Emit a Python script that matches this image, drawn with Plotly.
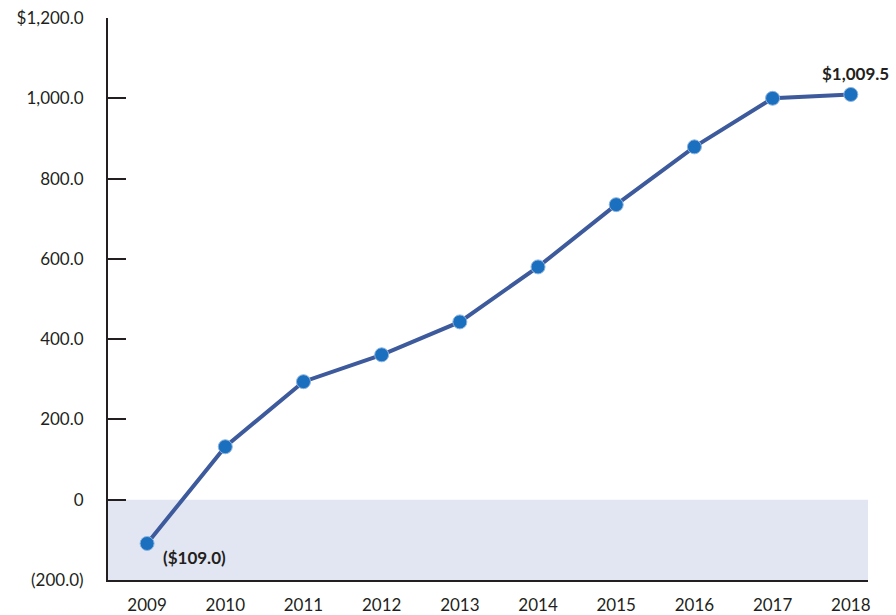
import plotly.graph_objects as go

years = [2009, 2010, 2011, 2012, 2013, 2014, 2015, 2016, 2017, 2018]
values = [-109.0, 132.0, 294.0, 361.0, 443.0, 580.0, 735.0, 879.0, 1000.0, 1009.5]
ytick_vals = [-200, 0, 200, 400, 600, 800, 1000, 1200]
ytick_text = ["(200.0)", "0", "200.0", "400.0", "600.0", "800.0", "1,000.0", "$1,200.0"]

fig = go.Figure()
fig.add_shape(type="rect", xref="paper", yref="y", x0=0, x1=1, y0=-200, y1=0,
              fillcolor="#E2E6F2", line_width=0, layer="below")
fig.add_trace(go.Scatter(
    x=years, y=values, mode="lines+markers",
    line=dict(color="#3D5A9C", width=4),
    marker=dict(color="#1A6FBE", size=14, line=dict(color="#8DB4E0", width=1)),
    hoverinfo="skip", showlegend=False, cliponaxis=False))

fig.add_annotation(x=years[-1], y=values[-1], text="<b>$1,009.5</b>", showarrow=False,
                   xanchor="center", yanchor="bottom", yshift=8, xshift=5,
                   font=dict(size=17, color="#231F20", family="Lato"))
fig.add_annotation(x=years[0], y=values[0], text="<b>($109.0)</b>", showarrow=False,
                   xanchor="left", yanchor="top", xshift=14, yshift=-2,
                   font=dict(size=17, color="#231F20", family="Lato"))

fig.update_layout(
    width=896, height=615,
    margin=dict(l=108, r=28, t=18, b=35),
    plot_bgcolor="white", paper_bgcolor="white",
    font=dict(family="Lato", size=17, color="#231F20"),
    xaxis=dict(range=[2008.5, 2018.22], tickvals=years, ticktext=[str(y) for y in years],
               showgrid=False, zeroline=False, showline=True, linecolor="#231F20",
               linewidth=2, ticks="", ticklen=0, automargin=False,
               tickfont=dict(size=17), ticklabelstandoff=9),
    yaxis=dict(range=[-200, 1200], tickvals=ytick_vals, ticktext=ytick_text,
               showgrid=False, zeroline=False, showline=True, linecolor="#231F20",
               linewidth=2, ticks="inside", ticklen=18, tickcolor="#231F20",
               tickwidth=1.5, automargin=False, tickfont=dict(size=17),
               ticklabelstandoff=19),
)
fig.write_html("out.html", config={"displayModeBar": False},
               post_script="document.body.style.margin='0';document.body.style.overflow='hidden';")
